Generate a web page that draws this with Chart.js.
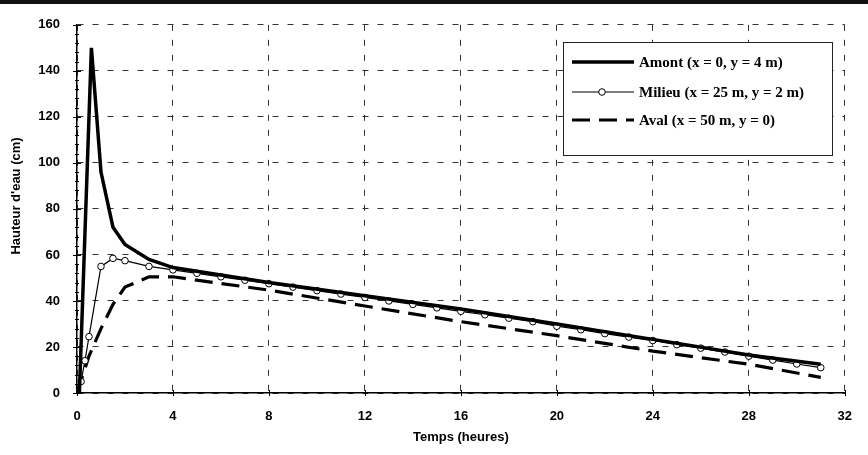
<!DOCTYPE html>
<html>
<head>
<meta charset="utf-8">
<script src="https://cdn.jsdelivr.net/npm/chart.js@4.4.1/dist/chart.umd.min.js"></script>
<style>
  body { margin: 0; background: #fff; }
  canvas { display: block; }
</style>
</head>
<body>
<canvas id="chart" width="868" height="455"></canvas>
<script>
// water height (cm) against time (hours)
const amontT = [0, 0.1, 0.6, 1, 1.5, 2, 3, 4, 8, 12, 16, 20, 24, 28, 31];
const amontH = [0, 0, 150, 96, 72, 64.5, 58, 54.5, 48, 42.3, 36.5, 30, 23.3, 16.5, 12.5];

const milieuT = [0, 0.17, 0.33, 0.5, 1, 1.5, 2, 3, 4, 5, 6, 7, 8, 9, 10, 11, 12, 13, 14, 15,
  16, 17, 18, 19, 20, 21, 22, 23, 24, 25, 26, 27, 28, 29, 30, 31];
const milieuH = [0, 5, 14, 24.5, 55, 58.5, 57.5, 55, 53.5, 52, 50.5, 49, 47.5, 46, 44.5, 43, 41.5, 40, 38.5, 37,
  35.5, 34, 32.5, 31, 29, 27.5, 25.8, 24.3, 22.8, 21, 19.5, 17.8, 16, 14.3, 12.6, 11];

const avalT = [0, 0.5, 1, 1.5, 2, 3, 4, 8, 12, 16, 20, 24, 28, 31];
const avalH = [0, 16, 28, 38.5, 46, 50.5, 50.5, 44.7, 37.8, 31, 24.9, 18.2, 12.5, 6.8];

const seriesLabels = [
  "Amont (x = 0, y = 4 m)",
  "Milieu (x = 25 m, y = 2 m)",
  "Aval (x = 50 m, y = 0)"
];

const xTitle = "Temps (heures)";
const yTitle = "Hauteur d'eau (cm)";

const toPoints = (ts, hs) => ts.map((t, i) => ({ x: t, y: hs[i] }));

const sansBold = { family: "'Liberation Sans', Arial, sans-serif", size: 13, weight: "bold" };

// legend box drawn inside the plot, y title, small axis ticks and the scan bar on top
const extras = {
  id: "extras",
  afterDraw(chart) {
    const ctx = chart.ctx;
    const x = chart.scales.x;
    const y = chart.scales.y;
    ctx.save();

    // dark band along the top edge of the scan
    ctx.fillStyle = "#111";
    ctx.fillRect(0, 0, chart.width, 4);

    // y title, sits a bit above the middle of the axis
    ctx.save();
    ctx.translate(16, 196);
    ctx.rotate(-Math.PI / 2);
    ctx.fillStyle = "#000";
    ctx.font = "bold 13px 'Liberation Sans', Arial, sans-serif";
    ctx.textAlign = "center";
    ctx.textBaseline = "middle";
    ctx.fillText(yTitle, 0, 0);
    ctx.restore();

    // minor ticks on the axes
    ctx.strokeStyle = "#000";
    ctx.lineWidth = 1;
    for (let v = 0; v <= 160; v += 4) {
      const py = Math.round(y.getPixelForValue(v)) + 0.5;
      const big = v % 20 === 0;
      ctx.beginPath();
      ctx.moveTo(x.left - (big ? 4 : 2), py);
      ctx.lineTo(x.left + (big ? 4 : 2), py);
      ctx.stroke();
    }
    for (let v = 0; v <= 32; v += 4) {
      const px = Math.round(x.getPixelForValue(v)) + 0.5;
      ctx.beginPath();
      ctx.moveTo(px, y.bottom - 3);
      ctx.lineTo(px, y.bottom + 3);
      ctx.stroke();
    }

    // legend
    const bx = 563, by = 42, bw = 269, bh = 113;
    ctx.fillStyle = "#fff";
    ctx.fillRect(bx, by, bw, bh);
    ctx.strokeStyle = "#222";
    ctx.lineWidth = 1;
    ctx.strokeRect(bx + 0.5, by + 0.5, bw, bh);

    const rows = [62, 92, 120];
    const x0 = 572, x1 = 634;
    chart.data.datasets.forEach((ds, i) => {
      const ry = rows[i];
      ctx.strokeStyle = ds.borderColor;
      ctx.lineWidth = ds.borderWidth;
      ctx.setLineDash(ds.borderDash || []);
      ctx.beginPath();
      ctx.moveTo(x0, ry);
      ctx.lineTo(x1, ry);
      ctx.stroke();
      ctx.setLineDash([]);
      if (ds.pointRadius > 0) {
        ctx.beginPath();
        ctx.arc(602, ry, ds.pointRadius, 0, Math.PI * 2);
        ctx.fillStyle = ds.pointBackgroundColor;
        ctx.fill();
        ctx.lineWidth = ds.pointBorderWidth;
        ctx.strokeStyle = ds.pointBorderColor;
        ctx.stroke();
      }
      ctx.fillStyle = "#000";
      ctx.font = "bold 15px 'Liberation Serif', 'Times New Roman', serif";
      ctx.textAlign = "left";
      ctx.textBaseline = "middle";
      ctx.fillText(ds.label, x1 + 5, ry + 1);
    });
    ctx.restore();
  }
};

new Chart(document.getElementById("chart"), {
  type: "line",
  data: {
    datasets: [
      {
        label: seriesLabels[0],
        data: toPoints(amontT, amontH),
        borderColor: "#000",
        borderWidth: 3.5,
        pointRadius: 0,
        tension: 0
      },
      {
        label: seriesLabels[1],
        data: toPoints(milieuT, milieuH),
        borderColor: "#000",
        borderWidth: 1.2,
        pointRadius: 3.3,
        pointBackgroundColor: "#fff",
        pointBorderColor: "#000",
        pointBorderWidth: 1,
        tension: 0
      },
      {
        label: seriesLabels[2],
        data: toPoints(avalT, avalH),
        borderColor: "#000",
        borderWidth: 3.2,
        borderDash: [18, 9],
        pointRadius: 0,
        tension: 0
      }
    ]
  },
  options: {
    responsive: false,
    animation: false,
    devicePixelRatio: 1,
    layout: { padding: { top: 21, right: 10, bottom: 0, left: 0 } },
    plugins: {
      legend: { display: false },
      tooltip: { enabled: false }
    },
    scales: {
      x: {
        type: "linear",
        min: 0,
        max: 32,
        afterFit: (s) => { s.height = 62; },
        ticks: { stepSize: 4, color: "#000", font: sansBold, padding: 16, maxRotation: 0 },
        grid: { color: "#333", lineWidth: 1, drawTicks: false },
        border: { display: true, color: "#000", width: 1.5, dash: [6, 9] },
        title: { display: true, text: xTitle, color: "#000", font: sansBold, padding: { top: 0, bottom: 10 } }
      },
      y: {
        min: 0,
        max: 160,
        afterFit: (s) => { s.width = 77; },
        ticks: { stepSize: 20, color: "#000", font: sansBold, padding: 17 },
        grid: { color: "#333", lineWidth: 1, drawTicks: false },
        border: { display: true, color: "#000", width: 1.5, dash: [6, 9] },
        title: { display: false }
      }
    }
  },
  plugins: [extras]
});
</script>
</body>
</html>
